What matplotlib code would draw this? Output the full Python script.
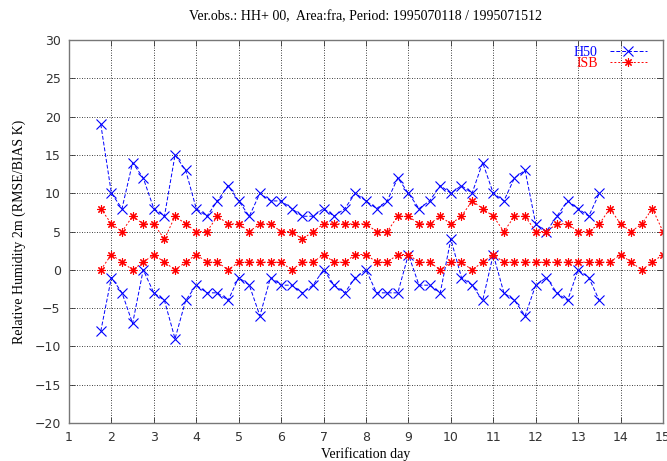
import matplotlib
matplotlib.use("Agg")
import matplotlib.pyplot as plt
import numpy as np

# verification day, one point every 6 h
days_h50 = np.arange(1.75, 13.5 + 0.01, 0.25)
days_isb = np.arange(1.75, 15.0 + 0.01, 0.25)

h50_rmse = [19, 10, 8, 14, 12, 8, 7, 15, 13, 8, 7, 9, 11, 9, 7, 10, 9, 9, 8, 7,
            7, 8, 7, 8, 10, 9, 8, 9, 12, 10, 8, 9, 11, 10, 11, 10, 14, 10, 9, 12,
            13, 6, 5, 7, 9, 8, 7, 10]
h50_bias = [-8, -1, -3, -7, 0, -3, -4, -9, -4, -2, -3, -3, -4, -1, -2, -6, -1, -2, -2, -3,
            -2, 0, -2, -3, -1, 0, -3, -3, -3, 2, -2, -2, -3, 4, -1, -2, -4, 2, -3, -4,
            -6, -2, -1, -3, -4, 0, -1, -4]
isb_rmse = [8, 6, 5, 7, 6, 6, 4, 7, 6, 5, 5, 7, 6, 6, 5, 6, 6, 5, 5, 4,
            5, 6, 6, 6, 6, 6, 5, 5, 7, 7, 6, 6, 7, 6, 7, 9, 8, 7, 5, 7,
            7, 5, 5, 6, 6, 5, 5, 6, 8, 6, 5, 6, 8, 5]
isb_bias = [0, 2, 1, 0, 1, 2, 1, 0, 1, 2, 1, 1, 0, 1, 1, 1, 1, 1, 0, 1,
            1, 2, 1, 1, 2, 2, 1, 1, 2, 2, 1, 1, 0, 1, 1, 0, 1, 2, 1, 1,
            1, 1, 1, 1, 1, 1, 1, 1, 1, 2, 1, 0, 1, 2]

title = "Ver.obs.: HH+ 00,  Area:fra, Period: 1995070118 / 1995071512"

fig = plt.figure(figsize=(6.67, 4.61), dpi=100)
ax = fig.add_axes([0.1034, 0.0824, 0.8906, 0.8306])

serif = "Liberation Serif"
blue = "#0000ff"
red = "#ff0000"

# gnuplot style: dashed lines with points
ax.plot(days_h50, h50_rmse, color=blue, ls=(0, (4, 2)), lw=0.7, marker="x", ms=6.5, mew=0.8, label="H50")
ax.plot(days_h50, h50_bias, color=blue, ls=(0, (4, 2)), lw=0.7, marker="x", ms=6.5, mew=0.8)
ax.plot(days_isb, isb_rmse, color=red, ls=(0, (2, 2)), lw=0.7, marker=(8, 2, 0), ms=6, mew=0.8, label="ISB")
ax.plot(days_isb, isb_bias, color=red, ls=(0, (2, 2)), lw=0.7, marker=(8, 2, 0), ms=6, mew=0.8)

ax.set_xlim(1, 15)
ax.set_ylim(-20, 30)
ax.set_xticks(range(1, 16))
ax.set_yticks(range(-20, 31, 5))
ax.grid(True, color="black", ls=(0, (1, 2)), lw=0.6)
ax.tick_params(direction="in", top=True, right=True, length=4, width=0.6,
               labelsize=9, colors="#333333", pad=6)
for s in ax.spines.values():
    s.set_color("#777777")
    s.set_linewidth(1.0)

ax.set_title(title, fontfamily=serif, fontsize=10, pad=14)
ax.set_xlabel("Verification day", fontfamily=serif, fontsize=10, labelpad=2)
ax.set_ylabel("Relative Humidity 2m (RMSE/BIAS K)", fontfamily=serif, fontsize=10, labelpad=6)

leg = ax.legend(loc="upper right", bbox_to_anchor=(0.982, 1.0), borderaxespad=0,
                frameon=False, markerfirst=False, labelcolor="linecolor",
                prop={"family": serif, "size": 10}, handlelength=2.66, handletextpad=0.86,
                labelspacing=-0.1)

fig.savefig("out.png", dpi=100)
